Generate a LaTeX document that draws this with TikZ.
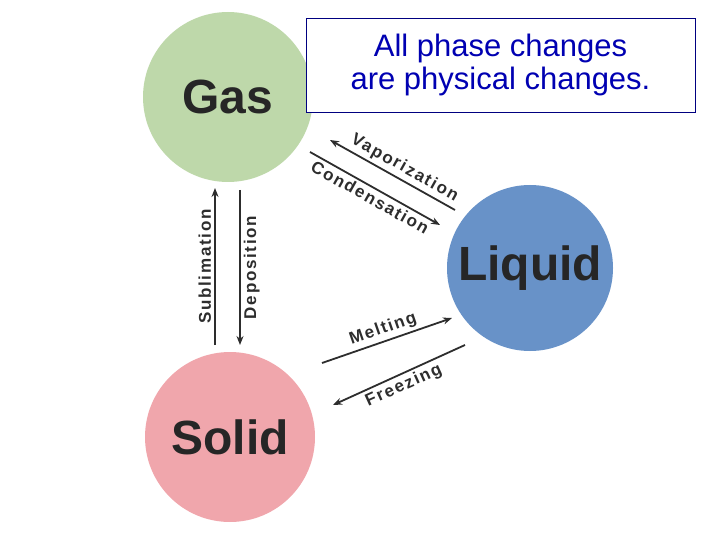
\documentclass[tikz,border=0pt]{standalone}
\usepackage{fontspec}
\setmainfont{Liberation Sans}
\usetikzlibrary{positioning,arrows.meta}
\definecolor{gasgreen}{RGB}{190,216,170}
\definecolor{liqblue}{RGB}{104,146,200}
\definecolor{solpink}{RGB}{240,166,172}
\definecolor{labgray}{RGB}{45,45,45}
\tikzset{%
    phase/.style={circle,minimum size=170pt,inner sep=0pt,font=\fontsize{48}{48}\selectfont\bfseries,text=black!85},
    flow/.style={-{Stealth[length=9pt,width=7pt]},line width=1.8pt,labgray},
    tag/.style={font=\fontsize{17}{17}\selectfont\bfseries\addfontfeature{LetterSpace=10},text=labgray,inner sep=3pt},
  }
\begin{document}
\begin{tikzpicture}[x=1pt,y=-1pt]
    \useasboundingbox (0,0) rectangle (720,540);
    \node (gas) [phase, fill=gasgreen] at (228,97) {Gas};
    \node (liquid) [phase, fill=liqblue, minimum size=166pt] at (530,268) {Liquid};
    \node (solid) [phase, fill=solpink] at (230,437) {Solid};
    \node (note) [draw=blue!50!black, line width=0.8pt, fill=white, minimum width=389pt, minimum height=94pt,
      align=center, text=blue!70!black, font=\fontsize{31}{33}\selectfont] at (500.5,65) {All phase changes\\are physical changes.};
    %
    \coordinate (subA) at (215,345); \coordinate (subB) at (215,188);
    \coordinate (depA) at (240,190); \coordinate (depB) at (240,345);
    \draw [flow] (subA) -- (subB) node[midway, tag, rotate=90, anchor=south] {Sublimation};
    \draw [flow] (depA) -- (depB) node[midway, tag, rotate=90, anchor=north] {Deposition};
    %
    \coordinate (vapA) at (455,210); \coordinate (vapB) at (330,140);
    \coordinate (conA) at (310,152); \coordinate (conB) at (440,225);
    \draw [flow] (vapA) -- (vapB) node[pos=0.45, tag, sloped, anchor=south] {Vaporization};
    \draw [flow] (conA) -- (conB) node[midway, tag, sloped, anchor=north] {Condensation};
    %
    \coordinate (melA) at (322,363); \coordinate (melB) at (452,318);
    \coordinate (frzA) at (465,345); \coordinate (frzB) at (333,405);
    \draw [flow] (melA) -- (melB) node[midway, tag, sloped, anchor=south] {Melting};
    \draw [flow] (frzA) -- (frzB) node[midway, tag, sloped, anchor=north] {Freezing};
\end{tikzpicture}
\end{document}
